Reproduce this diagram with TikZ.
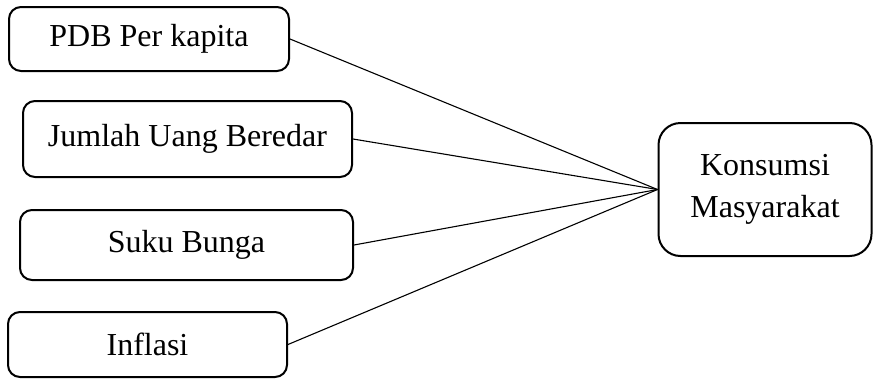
\documentclass[tikz,border=0pt]{standalone}
\usepackage{fontspec}
\setmainfont{Liberation Serif}
\begin{document}
\begin{tikzpicture}[x=1pt,y=-1pt,
  box/.style={draw=black, line width=2pt, rounded corners=12pt, inner sep=0pt,
    align=center, font=\fontsize{32}{42}\selectfont},
  link/.style={draw=black, line width=1.1pt}]
  \useasboundingbox (0,0) rectangle (875,378);
  \node[box, minimum width=280pt, minimum height=64pt] (pdb) at (149,39) {PDB Per kapita};
  \node[box, minimum width=329pt, minimum height=76pt] (jub) at (187.5,139) {Jumlah Uang Beredar};
  \node[box, minimum width=333pt, minimum height=70pt] (sb) at (186.5,245) {Suku Bunga};
  \node[box, minimum width=279pt, minimum height=65pt] (inf) at (147.5,344.5) {Inflasi};
  \node[box, rounded corners=22pt, minimum width=213pt, minimum height=133pt] (km) at (765,189.5) {Konsumsi\\Masyarakat};
  \draw[link] (pdb.east) -- (km.west);
  \draw[link] (jub.east) -- (km.west);
  \draw[link] (sb.east) -- (km.west);
  \draw[link] (inf.east) -- (km.west);
\end{tikzpicture}
\end{document}
